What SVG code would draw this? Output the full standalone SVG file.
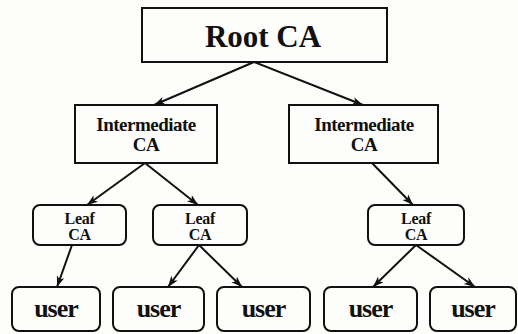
<svg xmlns="http://www.w3.org/2000/svg" width="518" height="334" viewBox="0 0 518 334">
<style>
.box{fill:#fdfdfb;stroke:#111;stroke-width:2}
.t{font-family:"Liberation Serif","Times New Roman",serif;font-weight:bold;fill:#111;text-anchor:middle}
.root{font-size:31px}
.mid{font-size:19px;letter-spacing:-0.5px}
.leaf{font-size:16px;letter-spacing:-0.3px}
.user{font-size:26px;letter-spacing:-1px}
.c{stroke:#111;stroke-width:2;fill:none;marker-end:url(#ah)}
</style>
<defs>
<marker id="ah" markerUnits="userSpaceOnUse" markerWidth="12" markerHeight="10" refX="11" refY="4" orient="auto">
<path d="M0,0 L11,4 L0,8 L3,4 z" fill="#111"/>
</marker>
</defs>
<rect width="518" height="334" fill="#fdfdfb"/>
<g id="connectors">
<line class="c" x1="254" y1="62" x2="154" y2="105"/>
<line class="c" x1="254" y1="62" x2="363" y2="105"/>
<line class="c" x1="145" y1="163" x2="87" y2="205"/>
<line class="c" x1="145" y1="163" x2="198" y2="205"/>
<line class="c" x1="372" y1="163" x2="413" y2="205"/>
<line class="c" x1="72" y1="245" x2="57" y2="287"/>
<line class="c" x1="199" y1="245" x2="168" y2="287"/>
<line class="c" x1="199" y1="245" x2="242" y2="287"/>
<line class="c" x1="416" y1="245" x2="373" y2="287"/>
<line class="c" x1="416" y1="245" x2="475" y2="287"/>
</g>
<g id="root">
<rect class="box" x="142" y="8" width="245" height="54"/>
<text class="t root" x="263" y="47">Root CA</text>
</g>
<g id="int1">
<rect class="box" x="75" y="105" width="142" height="58"/>
<text class="t mid" x="146" y="131">Intermediate</text>
<text class="t mid" x="146" y="151">CA</text>
</g>
<g id="int2">
<rect class="box" x="289" y="105" width="149" height="58"/>
<text class="t mid" x="364" y="131">Intermediate</text>
<text class="t mid" x="364" y="151">CA</text>
</g>
<g id="leaf1">
<rect class="box" x="33" y="205" width="93" height="40" rx="7"/>
<text class="t leaf" x="79.5" y="224">Leaf</text>
<text class="t leaf" x="79.5" y="240">CA</text>
</g>
<g id="leaf2">
<rect class="box" x="153" y="205" width="94" height="40" rx="7"/>
<text class="t leaf" x="200" y="224">Leaf</text>
<text class="t leaf" x="200" y="240">CA</text>
</g>
<g id="leaf3">
<rect class="box" x="368" y="205" width="96" height="40" rx="7"/>
<text class="t leaf" x="416" y="224">Leaf</text>
<text class="t leaf" x="416" y="240">CA</text>
</g>
<g id="user1">
<rect class="box" x="12" y="287" width="88" height="44" rx="7"/>
<text class="t user" x="56" y="317">user</text>
</g>
<g id="user2">
<rect class="box" x="113" y="287" width="91" height="44" rx="7"/>
<text class="t user" x="158.5" y="317">user</text>
</g>
<g id="user3">
<rect class="box" x="217" y="287" width="93" height="44" rx="7"/>
<text class="t user" x="263.5" y="317">user</text>
</g>
<g id="user4">
<rect class="box" x="324" y="287" width="93" height="44" rx="7"/>
<text class="t user" x="370.5" y="317">user</text>
</g>
<g id="user5">
<rect class="box" x="430" y="287" width="86" height="44" rx="7"/>
<text class="t user" x="473" y="317">user</text>
</g>
</svg>
